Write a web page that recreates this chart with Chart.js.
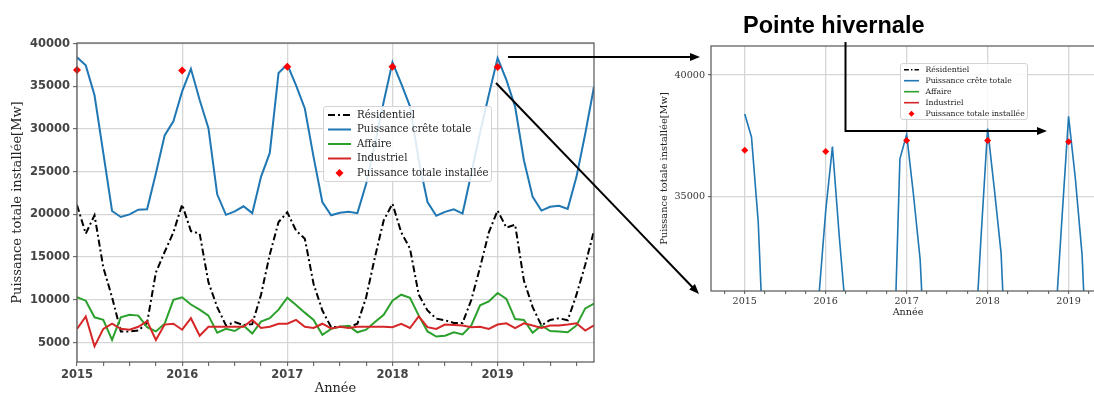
<!DOCTYPE html>
<html lang="fr">
<head>
<meta charset="utf-8">
<title>Puissance totale installée</title>
<script src="https://cdn.jsdelivr.net/npm/chart.js@4.4.1/dist/chart.umd.min.js"></script>
<style>
  html, body { margin: 0; padding: 0; width: 1094px; height: 393px; overflow: hidden; background: #fff; }
  canvas { position: absolute; top: 0; }
  #mainChart { left: 0; }
  #zoomChart { left: 640px; }
  .legend {
    position: absolute;
    border: 1px solid #d4d4d4;
    border-radius: 3px;
    background: rgba(255, 255, 255, 0.85);
    font-family: "DejaVu Serif", serif;
    color: #222;
    box-sizing: border-box;
  }
  .legend .row { position: absolute; left: 0; white-space: nowrap; }
  .legend svg { position: absolute; left: 0; top: 0; }
  #overlay { position: absolute; left: 0; top: 0; pointer-events: none; }
</style>
</head>
<body>
<canvas id="mainChart" width="600" height="400"></canvas>
<canvas id="zoomChart" width="470" height="393"></canvas>
<div id="mainLegend" class="legend"></div>
<div id="zoomLegend" class="legend"></div>
<svg id="overlay" width="1094" height="393"></svg>

<script>
// Monthly values, Jan 2015 .. Dec 2019 (MW)
const startYear = 2015;
const years = [2015, 2016, 2017, 2018, 2019];

const residentiel = [
  21100, 17750, 19900, 13800, 10300, 6300, 6300, 6400, 7300, 13200, 15600, 17900,
  21150, 18050, 17750, 12050, 9150, 7000, 7400, 7050, 7150, 10600, 15300, 19100,
  20250, 18100, 17150, 11850, 8750, 6800, 6850, 6800, 7200, 10300, 15000, 19300,
  21250, 17900, 16000, 10600, 8750, 7800, 7600, 7300, 7300, 10000, 13800, 17900,
  20450, 18450, 18800, 12250, 9150, 7000, 7650, 7850, 7600, 10600, 14100, 18100
];

const creteTotale = [
  38400, 37450, 33950, 27200, 20400, 19700, 20000, 20550, 20600, 24800, 29250, 30900,
  34400, 37050, 33400, 30100, 22350, 19950, 20350, 20950, 20150, 24400, 27200, 36550,
  37550, 35100, 32400, 26700, 21450, 19900, 20200, 20300, 20150, 23600, 28300, 33200,
  37800, 35300, 32650, 26350, 21450, 19850, 20300, 20600, 20100, 24800, 29600, 34000,
  38300, 35750, 32600, 26350, 22050, 20450, 20900, 21000, 20650, 24400, 29450, 34950
];

const affaire = [
  10300, 9900, 7950, 7650, 5300, 7950, 8250, 8150, 6800, 6300, 7200, 10000,
  10300, 9450, 8850, 8150, 6150, 6600, 6350, 7000, 6050, 7450, 7850, 8850,
  10250, 9400, 8500, 7650, 5900, 6600, 6850, 6950, 6200, 6500, 7400, 8250,
  9900, 10600, 10250, 8150, 6300, 5700, 5800, 6200, 5950, 7000, 9350, 9800,
  10800, 10100, 7750, 7650, 6150, 7000, 6350, 6300, 6200, 7000, 9000, 9550
];

const industriel = [
  6600, 8050, 4550, 6600, 7200, 6600, 6500, 6850, 7500, 5300, 7100, 7200,
  6500, 7850, 5800, 6850, 6850, 6850, 6850, 6850, 7650, 6700, 6850, 7200,
  7200, 7650, 6850, 6700, 7200, 6650, 6850, 6700, 6850, 6850, 6850, 6850,
  6800, 7200, 6700, 8050, 6800, 6600, 7100, 7050, 7000, 6800, 6850, 6600,
  7100, 7250, 6700, 7250, 7000, 6700, 7000, 7000, 7100, 7250, 6400, 7000
];

// Yearly installed capacity, plotted at January of each year
const installee = [36900, 36850, 37300, 37300, 37250];

const seriesNames = [
  "Résidentiel",
  "Puissance crête totale",
  "Affaire",
  "Industriel",
  "Puissance totale installée"
];

const mainYTicks = [5000, 10000, 15000, 20000, 25000, 30000, 35000, 40000];
const zoomYTicks = [35000, 40000];

// ---- styles ----
const seriesStyles = [
  { color: "#000000", dash: [7, 3, 2, 3] },
  { color: "#1f77b4", dash: [] },
  { color: "#2ca02c", dash: [] },
  { color: "#d62728", dash: [] },
  { color: "#ff0000", marker: true }
];
const gridColor = "#d6d6d6";
const spineColor = "#555555";

function toPoints(values) {
  return values.map((v, i) => ({ x: i, y: v }));
}

const installeePoints = years.map((yr, k) => ({ x: (yr - startYear) * 12, y: installee[k] }));
const lineSeries = [residentiel, creteTotale, affaire, industriel];

function buildDatasets(lineWidth, markerRadius) {
  const sets = lineSeries.map((values, i) => ({
    label: seriesNames[i],
    data: toPoints(values),
    borderColor: seriesStyles[i].color,
    borderWidth: lineWidth,
    borderDash: seriesStyles[i].dash,
    pointRadius: 0,
    tension: 0,
    fill: false
  }));
  sets.push({
    label: seriesNames[4],
    data: installeePoints,
    showLine: false,
    pointStyle: "rectRot",
    pointRadius: markerRadius,
    pointBackgroundColor: seriesStyles[4].color,
    pointBorderColor: seriesStyles[4].color,
    pointBorderWidth: 0,
    clip: false
  });
  // later series drawn on top, like the original
  sets.forEach((s, i) => { s.order = sets.length - i; });
  return sets;
}

// draws the axes box around the plot area
const framePlugin = {
  id: "frame",
  afterDatasetsDraw(chart) {
    const a = chart.chartArea;
    const ctx = chart.ctx;
    ctx.save();
    ctx.strokeStyle = spineColor;
    ctx.lineWidth = 1.2;
    ctx.strokeRect(a.left, a.top, a.right - a.left, a.bottom - a.top);
    ctx.restore();
  }
};

function monthTicks(from, to) {
  const t = [];
  for (let m = from; m <= to; m += 3) t.push({ value: m });
  return t;
}

function yearLabel(value) {
  return value % 12 === 0 ? String(startYear + value / 12) : "";
}

function xScale(opts) {
  return {
    type: "linear",
    min: opts.min,
    max: opts.max,
    afterBuildTicks: (axis) => { axis.ticks = monthTicks(opts.tickFrom, opts.tickTo); },
    afterFit: (axis) => { axis.height = opts.height; },
    border: { display: false },
    grid: {
      color: (c) => (c.tick && c.tick.value % 12 === 0 ? gridColor : "rgba(0,0,0,0)"),
      lineWidth: 1.3,
      tickColor: spineColor,
      tickLength: opts.tickLength,
      tickWidth: 1
    },
    ticks: {
      autoSkip: false,
      maxRotation: 0,
      padding: opts.tickPadding,
      color: opts.tickColor,
      font: opts.tickFont,
      callback: yearLabel
    },
    title: {
      display: true,
      text: "Année",
      color: "#222",
      padding: opts.titlePadding,
      font: opts.titleFont
    }
  };
}

function yScale(opts) {
  return {
    type: "linear",
    min: opts.min,
    max: opts.max,
    afterBuildTicks: (axis) => { axis.ticks = opts.ticks.map((v) => ({ value: v })); },
    afterFit: (axis) => { axis.width = opts.width; },
    border: { display: false },
    grid: {
      color: gridColor,
      lineWidth: 1.3,
      tickColor: spineColor,
      tickLength: opts.tickLength,
      tickWidth: 1
    },
    ticks: {
      padding: 3,
      color: opts.tickColor,
      font: opts.tickFont,
      callback: (v) => String(v)
    },
    title: {
      display: true,
      text: "Puissance totale installée[Mw]",
      color: "#222",
      padding: opts.titlePadding,
      font: opts.titleFont
    }
  };
}

const commonOptions = {
  responsive: false,
  animation: false,
  events: [],
  plugins: { legend: { display: false }, tooltip: { enabled: false } }
};

// ---- main chart ----
new Chart(document.getElementById("mainChart"), {
  type: "line",
  data: { datasets: buildDatasets(2, 4) },
  options: Object.assign({}, commonOptions, {
    layout: { padding: { top: 43, right: 6, bottom: 0, left: 0 } },
    scales: {
      x: xScale({
        min: 0, max: 59, tickFrom: 0, tickTo: 59, height: 38,
        tickLength: 4, tickPadding: 2, tickColor: "#444",
        tickFont: { family: "DejaVu Sans", size: 11.5, weight: "bold" },
        titlePadding: 4,
        titleFont: { family: "DejaVu Serif", size: 13 }
      }),
      y: yScale({
        min: 2720, max: 40070, ticks: mainYTicks, width: 77, tickLength: 4,
        tickColor: "#444",
        tickFont: { family: "DejaVu Sans", size: 11.5, weight: "bold" },
        titlePadding: 10,
        titleFont: { family: "DejaVu Serif", size: 13 }
      })
    }
  }),
  plugins: [framePlugin]
});

// ---- zoomed chart (winter peaks) ----
new Chart(document.getElementById("zoomChart"), {
  type: "line",
  data: { datasets: buildDatasets(1.6, 3.5) },
  options: Object.assign({}, commonOptions, {
    layout: { padding: { top: 46, right: 5, bottom: 74, left: 0 } },
    scales: {
      x: xScale({
        min: -5, max: 53.4, tickFrom: -3, tickTo: 53, height: 28,
        tickLength: 3, tickPadding: 2, tickColor: "#333",
        tickFont: { family: "DejaVu Serif", size: 9.6 },
        titlePadding: 1,
        titleFont: { family: "DejaVu Serif", size: 9.6 }
      }),
      y: yScale({
        min: 31100, max: 41200, ticks: zoomYTicks, width: 71, tickLength: 3,
        tickColor: "#333",
        tickFont: { family: "DejaVu Serif", size: 9.6 },
        titlePadding: 19,
        titleFont: { family: "DejaVu Serif", size: 9.8 }
      })
    }
  }),
  plugins: [framePlugin]
});

// ---- HTML legends ----
function buildLegend(el, o) {
  el.style.left = o.left + "px";
  el.style.top = o.top + "px";
  el.style.width = o.width + "px";
  el.style.height = o.height + "px";
  el.style.fontSize = o.fontSize + "px";
  const ns = "http://www.w3.org/2000/svg";
  const svg = document.createElementNS(ns, "svg");
  svg.setAttribute("width", o.width);
  svg.setAttribute("height", o.height);
  el.appendChild(svg);
  seriesNames.forEach((name, i) => {
    const st = seriesStyles[i];
    const cy = o.firstRow + i * o.rowStep;
    if (st.marker) {
      const cx = (o.sampleFrom + o.sampleTo) / 2;
      const r = o.markerR;
      const p = document.createElementNS(ns, "polygon");
      p.setAttribute("points", `${cx},${cy - r} ${cx + r},${cy} ${cx},${cy + r} ${cx - r},${cy}`);
      p.setAttribute("fill", st.color);
      svg.appendChild(p);
    } else {
      const l = document.createElementNS(ns, "line");
      l.setAttribute("x1", o.sampleFrom);
      l.setAttribute("x2", o.sampleTo);
      l.setAttribute("y1", cy);
      l.setAttribute("y2", cy);
      l.setAttribute("stroke", st.color);
      l.setAttribute("stroke-width", o.lineW);
      if (st.dash.length) l.setAttribute("stroke-dasharray", st.dash.map((d) => d * o.dashScale).join(" "));
      svg.appendChild(l);
    }
    const row = document.createElement("div");
    row.className = "row";
    row.textContent = name;
    row.style.left = o.textLeft + "px";
    row.style.top = (cy - o.fontSize * 0.6) + "px";
    row.style.lineHeight = (o.fontSize * 1.2) + "px";
    el.appendChild(row);
  });
}

buildLegend(document.getElementById("mainLegend"), {
  left: 323, top: 106, width: 169, height: 76, fontSize: 10.2,
  firstRow: 8, rowStep: 14.5, sampleFrom: 4, sampleTo: 27, textLeft: 33,
  lineW: 2, markerR: 4, dashScale: 1
});
buildLegend(document.getElementById("zoomLegend"), {
  left: 900, top: 63, width: 128, height: 57, fontSize: 7.7,
  firstRow: 5.7, rowStep: 11, sampleFrom: 3, sampleTo: 18, textLeft: 24.5,
  lineW: 1.6, markerR: 3, dashScale: 0.7
});

// ---- annotations: title and arrows ----
(function drawAnnotations() {
  const ns = "http://www.w3.org/2000/svg";
  const svg = document.getElementById("overlay");
  const title = document.createElementNS(ns, "text");
  title.setAttribute("x", 743);
  title.setAttribute("y", 32.5);
  title.setAttribute("font-family", "Liberation Sans, Arial, sans-serif");
  title.setAttribute("font-weight", "bold");
  title.setAttribute("font-size", "23.5");
  title.setAttribute("fill", "#000");
  title.textContent = "Pointe hivernale";
  svg.appendChild(title);

  function arrow(pts) {
    const pl = document.createElementNS(ns, "polyline");
    const n = pts.length;
    const [x1, y1] = pts[n - 2];
    const [x2, y2] = pts[n - 1];
    const len = Math.hypot(x2 - x1, y2 - y1);
    const ux = (x2 - x1) / len, uy = (y2 - y1) / len;
    const headL = 10, headW = 4;
    const bx = x2 - ux * headL, by = y2 - uy * headL;
    const shaft = pts.slice(0, n - 1).concat([[bx + ux * 1, by + uy * 1]]);
    pl.setAttribute("points", shaft.map((p) => p.join(",")).join(" "));
    pl.setAttribute("fill", "none");
    pl.setAttribute("stroke", "#000");
    pl.setAttribute("stroke-width", 2);
    svg.appendChild(pl);
    const head = document.createElementNS(ns, "polygon");
    head.setAttribute("points",
      `${x2},${y2} ${bx - uy * headW},${by + ux * headW} ${bx + uy * headW},${by - ux * headW}`);
    head.setAttribute("fill", "#000");
    svg.appendChild(head);
  }

  arrow([[508, 57], [700, 57]]);
  arrow([[496, 83], [699, 294]]);
  arrow([[845.5, 42], [845.5, 131], [1047, 131]]);
})();
</script>
</body>
</html>
